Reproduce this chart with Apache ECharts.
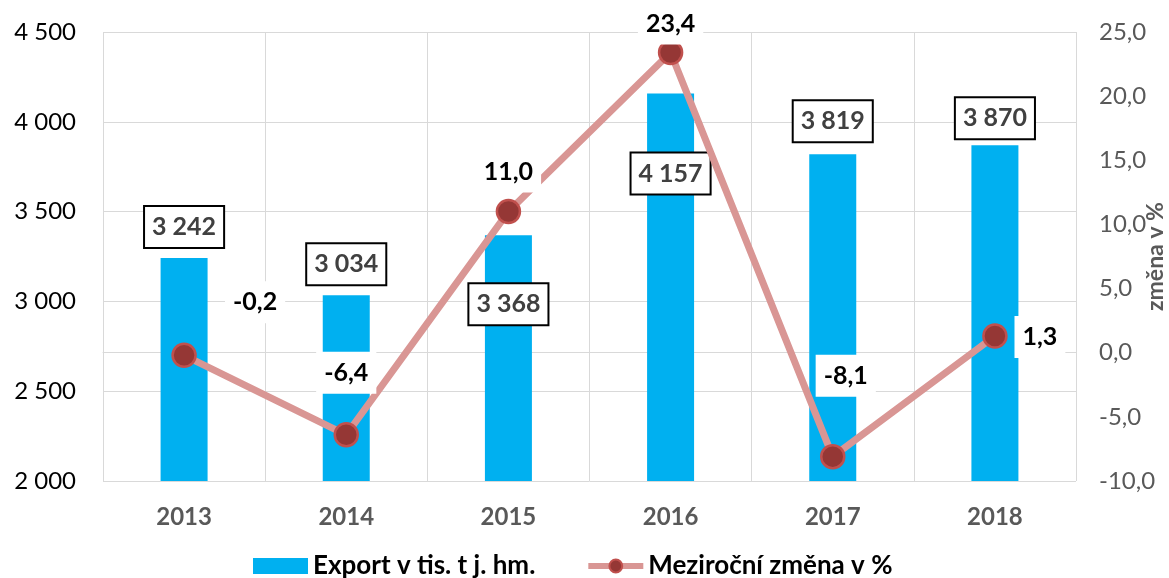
<!DOCTYPE html>
<html>
<head>
<meta charset="utf-8">
<script src="https://cdn.jsdelivr.net/npm/echarts@6/dist/echarts.min.js"></script>
<style>
html,body{margin:0;padding:0;background:#fff;}
#chart{width:1169px;height:578px;}
</style>
</head>
<body>
<div id="chart"></div>
<script>
// ---- data ----
const categories = ['2013', '2014', '2015', '2016', '2017', '2018'];
const exportValues = [3242, 3034, 3368, 4157, 3819, 3870];
const changeValues = [-0.2, -6.4, 11.0, 23.4, -8.1, 1.3];
const seriesNames = ['Export v tis. t j. hm.', 'Meziroční změna v %'];
const rightAxisName = 'změna v %';
const leftAxisRange = [2000, 4500, 500];
const rightAxisRange = [-10, 25, 5];

// ---- label placement (styling only) ----
const barLabelPlacement = [
  ['top', 11], ['top', 11], ['insideTop', 49], ['insideTop', 60], ['top', 13], ['top', 7]
];
const lineLabelOffsets = [[71, -53], [0, -62], [0, -40], [0, -29], [13, -81], [45, 1]];

const FONT = 'Lato';
const fmtThousands = v => String(Math.round(v)).replace(/\B(?=(\d{3})+(?!\d))/g, ' ');
const fmtDecimal = v => v.toFixed(1).replace('.', ',');

const chart = echarts.init(document.getElementById('chart'));
chart.setOption({
  animation: false,
  textStyle: { fontFamily: FONT },
  grid: { left: 103, right: 93, top: 32, bottom: 97, outerBoundsMode: 'none', containLabel: false },
  legend: {
    left: 248, top: 545,
    itemWidth: 55, itemHeight: 16, itemGap: 50,
    textStyle: { fontFamily: FONT, fontSize: 26, fontWeight: 'bold', color: '#000', lineHeight: 32 },
    data: [
      { name: seriesNames[0], icon: 'rect' },
      { name: seriesNames[1], lineStyle: { width: 6, color: '#D99694' } }
    ]
  },
  xAxis: {
    type: 'category',
    data: categories,
    boundaryGap: true,
    axisLine: { show: true, lineStyle: { color: '#D9D9D9', width: 1 } },
    axisTick: { show: true, length: 9, lineStyle: { color: '#D9D9D9' } },
    splitLine: { show: true, lineStyle: { color: '#D9D9D9', width: 1 } },
    axisLabel: { fontFamily: FONT, fontSize: 24, fontWeight: 'bold', color: '#595959', margin: 24 }
  },
  yAxis: [
    {
      type: 'value',
      min: leftAxisRange[0], max: leftAxisRange[1], interval: leftAxisRange[2],
      axisLine: { show: false },
      axisTick: { show: false },
      splitLine: { show: true, lineStyle: { color: '#D9D9D9', width: 1 } },
      axisLabel: { fontFamily: FONT, fontSize: 24, color: '#000', margin: 27, formatter: fmtThousands }
    },
    {
      type: 'value',
      position: 'right',
      min: rightAxisRange[0], max: rightAxisRange[1], interval: rightAxisRange[2],
      axisLine: { show: false },
      axisTick: { show: false },
      splitLine: { show: false },
      axisLabel: { fontFamily: FONT, fontSize: 24, color: '#595959', margin: 23, formatter: fmtDecimal },
      name: rightAxisName,
      nameLocation: 'middle',
      nameGap: 68,
      nameMoveOverlap: false,
      nameTextStyle: { fontFamily: FONT, fontSize: 23, fontWeight: 'bold', color: '#595959' }
    }
  ],
  series: [
    {
      name: seriesNames[0],
      type: 'bar',
      yAxisIndex: 0,
      barWidth: 47,
      itemStyle: { color: '#00B0F0' },
      z: 2,
      data: exportValues.map((v, i) => ({
        value: v,
        label: { position: barLabelPlacement[i][0], distance: barLabelPlacement[i][1] }
      })),
      label: {
        show: true,
        formatter: p => fmtThousands(p.value),
        fontFamily: FONT, fontSize: 25, fontWeight: 'bold', color: '#404040',
        backgroundColor: '#fff', borderColor: '#000', borderWidth: 2,
        padding: [8, 7, 8, 7], lineHeight: 24
      }
    },
    {
      name: seriesNames[1],
      type: 'line',
      yAxisIndex: 1,
      z: 3,
      symbol: 'circle',
      symbolSize: 23,
      lineStyle: { color: '#D99694', width: 7 },
      itemStyle: { color: '#953735', borderColor: '#C0504D', borderWidth: 2.5 },
      data: changeValues.map((v, i) => ({
        value: v,
        label: { offset: lineLabelOffsets[i] }
      })),
      label: {
        show: true,
        position: 'inside',
        formatter: p => fmtDecimal(p.value),
        fontFamily: FONT, fontSize: 25, fontWeight: 'bold', color: '#000',
        backgroundColor: '#fff', padding: [9, 8, 9, 8], lineHeight: 24
      }
    }
  ]
});
</script>
</body>
</html>
